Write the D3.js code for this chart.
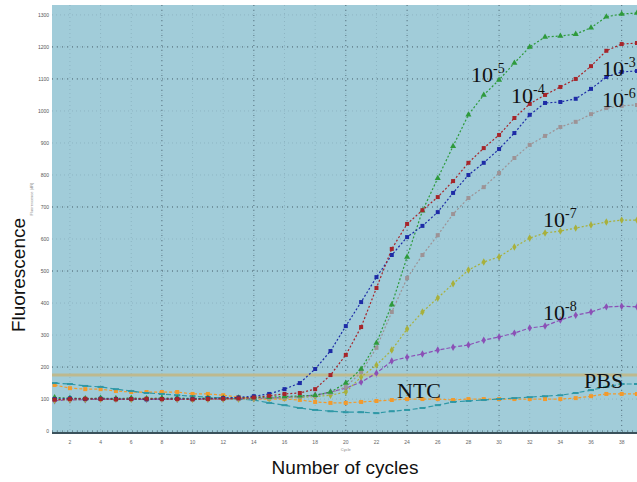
<!DOCTYPE html>
<html>
<head>
<meta charset="utf-8">
<script src="https://cdn.jsdelivr.net/npm/d3@7"></script>
<style>
  body { margin: 0; background: #fff; }
  svg { display: block; }
</style>
</head>
<body>
<svg width="637" height="482"></svg>
<script>
// cycles 1..39
const cycles = d3.range(1, 40)

const xTicks = [2, 4, 6, 8, 10, 12, 14, 16, 18, 20, 22, 24, 26, 28, 30, 32, 34, 36, 38]
const yTicks = [0, 1, 2, 3, 4, 5, 6, 7, 8, 9, 10, 11, 12, 13]
const yTickLabels = ["0", "100", "200", "300", "400", "500", "600", "700", "800", "900", "1000", "1100", "1200", "1300"]
const xMajor = [8, 14, 20, 24, 30, 38]
const yMajor = [0, 2, 5, 7, 11, 12]
const threshold = 1.75

const greenVals = [1.05, 1.03, 1.02, 1.03, 1.02, 1.03, 1.02, 1.03, 1.03, 1.02, 1.03, 1.03, 1.04, 1.05, 1.06, 1.08, 1.1,
  1.12, 1.22, 1.5, 1.94, 2.75, 3.95, 5.44, 6.88, 7.9, 8.9, 9.88, 10.5, 10.97, 11.5, 12.0, 12.31, 12.34, 12.4, 12.6, 12.94, 13.03, 13.06]
const redVals = [0.98, 1.0, 1.01, 1.0, 0.99, 1.0, 1.01, 1.0, 1.0, 0.99, 1.0, 1.01, 1.02, 1.05, 1.1,
  1.16, 1.19, 1.31, 1.75, 2.38, 3.25, 4.47, 5.69, 6.47, 6.9, 7.31, 7.81, 8.38, 8.84, 9.25, 9.78, 10.22, 10.5, 10.75, 11.0, 11.4, 11.88, 12.09, 12.12]
const blueVals = [1.0, 1.02, 1.0, 1.01, 1.0, 1.0, 0.99, 1.0, 1.01, 1.0, 1.02, 1.03, 1.05,
  1.09, 1.16, 1.31, 1.5, 1.94, 2.5, 3.28, 4.03, 4.81, 5.5, 6.06, 6.41, 6.84, 7.44, 8.0, 8.38, 8.81, 9.31, 9.88, 10.25, 10.28, 10.38, 10.69, 11.06, 11.22, 11.25]
const greyVals = [0.97, 0.99, 1.0, 1.0, 1.01, 1.0, 1.0, 0.99, 1.0, 1.0, 1.0, 1.01, 1.0, 1.02, 1.03, 1.05, 1.07, 1.1,
  1.19, 1.38, 1.84, 2.6, 3.72, 4.78, 5.5, 6.12, 6.78, 7.28, 7.62, 8.06, 8.53, 8.94, 9.22, 9.5, 9.66, 9.9, 10.09, 10.16, 10.19]
const oliveVals = [0.96, 0.98, 0.99, 1.0, 1.0, 0.99, 1.0, 1.0, 1.0, 0.99, 1.0, 1.0, 1.0, 1.01, 1.02, 1.03, 1.05, 1.08, 1.12,
  1.22, 1.69, 2.06, 2.53, 3.19, 3.72, 4.16, 4.6, 5.03, 5.28, 5.44, 5.75, 6.03, 6.19, 6.25, 6.34, 6.44, 6.53, 6.59, 6.59]
const purpleVals = [0.95, 0.97, 0.98, 1.0, 1.0, 1.0, 0.99, 1.0, 0.99, 1.0, 1.0, 1.0, 1.01, 1.02, 1.03, 1.05, 1.08,
  1.12, 1.22, 1.34, 1.53, 1.81, 2.19, 2.31, 2.41, 2.53, 2.62, 2.69, 2.84, 2.94, 3.06, 3.22, 3.28, 3.47, 3.62, 3.72, 3.88, 3.9, 3.88]
const orangeVals = [1.44, 1.34, 1.31, 1.31, 1.25, 1.22, 1.22, 1.22, 1.22, 1.16, 1.16, 1.12, 1.06, 1.0, 1.0, 1.0, 0.97, 0.91, 0.88, 0.88,
  0.91, 0.94, 0.97, 1.0, 1.0, 1.0, 0.97, 1.0, 1.0, 1.0, 1.0, 1.0, 1.0, 1.0, 1.03, 1.09, 1.16, 1.16, 1.16]
const tealVals = [1.5, 1.47, 1.41, 1.38, 1.31, 1.25, 1.19, 1.16, 1.12, 1.09, 1.06, 1.03, 1.0, 0.97, 0.88, 0.81, 0.72, 0.66, 0.62, 0.59,
  0.59, 0.56, 0.62, 0.66, 0.72, 0.81, 0.91, 0.94, 0.97, 1.0, 1.03, 1.06, 1.09, 1.12, 1.19, 1.28, 1.38, 1.47, 1.47]

const series = [
  { name: "PBS", values: orangeVals, color: "#f29a2c", symbol: d3.symbolSquare, dash: "3,2" },
  { name: "NTC", values: tealVals, color: "#2f98a6", symbol: null, dash: "5,3" },
  { name: "1e-8", values: purpleVals, color: "#8b50b6", symbol: d3.symbolDiamond, dash: "4,2" },
  { name: "1e-7", values: oliveVals, color: "#a8b03c", symbol: d3.symbolDiamond, dash: "2,2" },
  { name: "1e-6", values: greyVals, color: "#9d9396", symbol: d3.symbolSquare, dash: "2,2" },
  { name: "1e-5", values: greenVals, color: "#2e9a3c", symbol: d3.symbolTriangle, dash: "2,2" },
  { name: "1e-4", values: blueVals, color: "#1d2ba6", symbol: d3.symbolSquare, dash: "2,2" },
  { name: "1e-3", values: redVals, color: "#a6252a", symbol: d3.symbolSquare, dash: "2,2" }
]

const labels = [
  { base: "10", exp: "-5", x: 471, y: 82 },
  { base: "10", exp: "-3", x: 602, y: 76 },
  { base: "10", exp: "-4", x: 511, y: 103 },
  { base: "10", exp: "-6", x: 602, y: 107 },
  { base: "10", exp: "-7", x: 543, y: 227 },
  { base: "10", exp: "-8", x: 543, y: 320 },
  { base: "NTC", exp: "", x: 397, y: 398 },
  { base: "PBS", exp: "", x: 584, y: 388 }
]

const svg = d3.select("svg")
const [plotLeft, plotRight, plotTop, plotBottom] = [52, 637, 5, 433]

const x = d3.scaleLinear().domain([0.83, 39]).range([plotLeft, plotRight])
const y = d3.scaleLinear().domain([-0.06, 13.31]).range([plotBottom, plotTop])

svg.append("defs").append("clipPath").attr("id", "plot")
  .append("rect").attr("x", plotLeft).attr("y", plotTop)
  .attr("width", plotRight - plotLeft).attr("height", plotBottom - plotTop)

svg.append("rect")
  .attr("x", plotLeft).attr("y", plotTop)
  .attr("width", plotRight - plotLeft).attr("height", plotBottom - plotTop)
  .attr("fill", "#a1ccd9")

const grid = svg.append("g").attr("clip-path", "url(#plot)")

// faint grid at every tick
grid.selectAll(".gx").data(xTicks).enter().append("line")
  .attr("x1", (d) => x(d)).attr("x2", (d) => x(d))
  .attr("y1", plotTop).attr("y2", plotBottom)
  .attr("stroke", "#8db5c3").attr("stroke-width", 1).attr("stroke-dasharray", "1,3")
grid.selectAll(".gy").data(yTicks).enter().append("line")
  .attr("y1", (d) => y(d)).attr("y2", (d) => y(d))
  .attr("x1", plotLeft).attr("x2", plotRight)
  .attr("stroke", "#8db5c3").attr("stroke-width", 1).attr("stroke-dasharray", "1,3")

// darker dotted major lines
grid.selectAll(".mx").data(xMajor).enter().append("line")
  .attr("x1", (d) => x(d)).attr("x2", (d) => x(d))
  .attr("y1", plotTop).attr("y2", plotBottom)
  .attr("stroke", "#587480").attr("stroke-width", 1).attr("stroke-dasharray", "1,4")
grid.selectAll(".my").data(yMajor).enter().append("line")
  .attr("y1", (d) => y(d)).attr("y2", (d) => y(d))
  .attr("x1", plotLeft).attr("x2", plotRight)
  .attr("stroke", "#4d6670").attr("stroke-width", 1).attr("stroke-dasharray", "1,4")

// threshold band
grid.append("line")
  .attr("x1", plotLeft).attr("x2", plotRight)
  .attr("y1", y(threshold)).attr("y2", y(threshold))
  .attr("stroke", "#bdb98f").attr("stroke-width", 3)

const plot = svg.append("g").attr("clip-path", "url(#plot)")
const line = d3.line().x((d) => x(d[0])).y((d) => y(d[1]))

series.forEach((s) => {
  const pts = cycles.map((c, i) => [c, s.values[i]])
  plot.append("path")
    .datum(pts)
    .attr("d", line)
    .attr("fill", "none")
    .attr("stroke", s.color)
    .attr("stroke-width", 1.2)
    .attr("stroke-dasharray", s.dash)
  if (s.symbol) {
    plot.append("g").selectAll("path")
      .data(pts)
      .enter()
      .append("path")
      .attr("transform", (d) => `translate(${x(d[0])},${y(d[1])})`)
      .attr("d", d3.symbol().type(s.symbol).size(16))
      .attr("fill", s.color)
  } else {
    plot.append("g").selectAll("line")
      .data(pts)
      .enter()
      .append("line")
      .attr("x1", (d) => x(d[0]) - 3).attr("x2", (d) => x(d[0]) + 3)
      .attr("y1", (d) => y(d[1])).attr("y2", (d) => y(d[1]))
      .attr("stroke", s.color).attr("stroke-width", 2)
  }
})

// bottom axis line
svg.append("line")
  .attr("x1", plotLeft).attr("x2", plotRight)
  .attr("y1", plotBottom).attr("y2", plotBottom)
  .attr("stroke", "#3b525c").attr("stroke-width", 2)

// tiny tick labels
svg.append("g").selectAll("text")
  .data(xTicks)
  .enter()
  .append("text")
  .attr("x", (d) => x(d)).attr("y", 444)
  .attr("text-anchor", "middle")
  .attr("font-family", "Liberation Sans").attr("font-size", 5)
  .attr("fill", "#666")
  .text((d) => d)
svg.append("g").selectAll("text")
  .data(yTicks)
  .enter()
  .append("text")
  .attr("x", 49).attr("y", (d) => y(d) + 2)
  .attr("text-anchor", "end")
  .attr("font-family", "Liberation Sans").attr("font-size", 5)
  .attr("fill", "#555")
  .text((d, i) => yTickLabels[i])
svg.append("text")
  .attr("x", x(20)).attr("y", 451)
  .attr("text-anchor", "middle")
  .attr("font-family", "Liberation Sans").attr("font-size", 4)
  .attr("fill", "#888")
  .text("Cycle")
svg.append("text")
  .attr("transform", "translate(33,199) rotate(-90)")
  .attr("text-anchor", "middle")
  .attr("font-family", "Liberation Sans").attr("font-size", 4)
  .attr("fill", "#888")
  .text("Fluorescence (dR)")

// series labels
labels.forEach((l) => {
  const t = svg.append("text")
    .attr("x", l.x).attr("y", l.y)
    .attr("font-family", "Liberation Serif").attr("font-size", 22)
    .attr("fill", "#111")
  t.append("tspan").text(l.base)
  if (l.exp) {
    t.append("tspan").attr("dy", -9).attr("font-size", 14).text(l.exp)
  }
})

// axis titles
svg.append("text")
  .attr("x", 345).attr("y", 474)
  .attr("text-anchor", "middle")
  .attr("font-family", "Liberation Sans").attr("font-size", 19)
  .attr("fill", "#111")
  .text("Number of cycles")
svg.append("text")
  .attr("transform", "translate(25,275) rotate(-90)")
  .attr("text-anchor", "middle")
  .attr("font-family", "Liberation Sans").attr("font-size", 19)
  .attr("fill", "#111")
  .text("Fluorescence")
</script>
</body>
</html>
